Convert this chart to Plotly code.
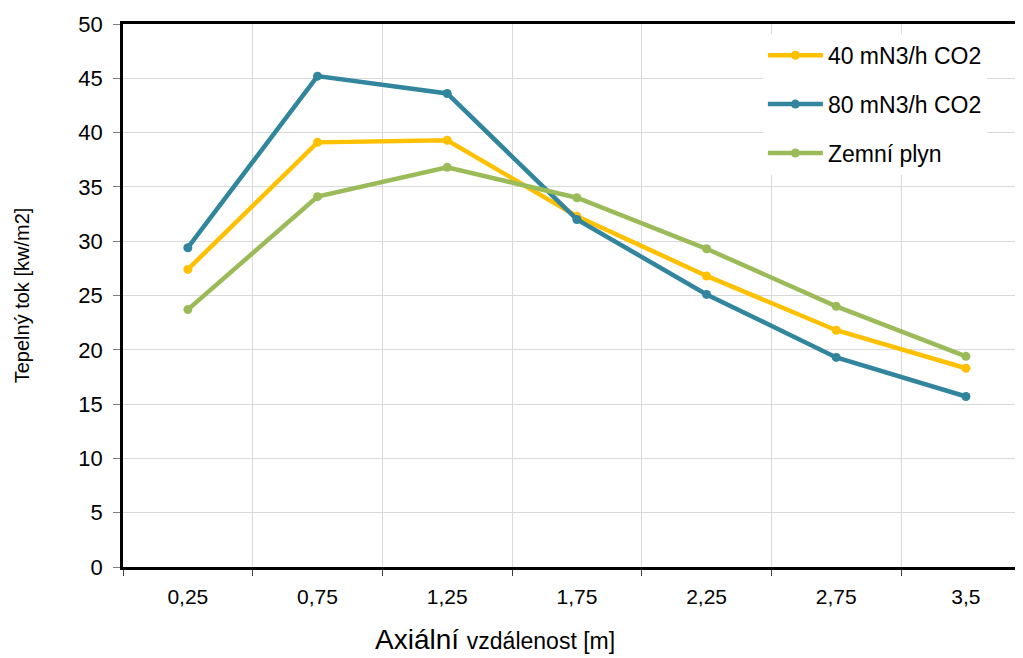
import plotly.graph_objects as go

DISTANCE = ["0,25", "0,75", "1,25", "1,75", "2,25", "2,75", "3,5"]
CO2_40 = [27.4, 39.1, 39.3, 32.3, 26.8, 21.8, 18.3]
CO2_80 = [29.4, 45.2, 43.6, 32.0, 25.1, 19.3, 15.7]
NATURAL_GAS = [23.7, 34.1, 36.8, 34.0, 29.3, 24.0, 19.4]

SERIES = [
    ("40 mN3/h CO2", CO2_40, "#FFC000"),
    ("80 mN3/h CO2", CO2_80, "#31859C"),
    ("Zemní plyn", NATURAL_GAS, "#9BBB59"),
]

FONT = "Liberation Sans, Arial, sans-serif"
NARROW = "Liberation Sans Narrow, Arial Narrow, Liberation Sans, sans-serif"
GRID = "#d9d9d9"

fig = go.Figure()
for i, (name, values, color) in enumerate(SERIES):
    fig.add_trace(
        go.Scatter(
            x=DISTANCE,
            y=values,
            mode="lines+markers",
            name=name,
            legendgroup=str(i),
            line=dict(color=color, width=4.5),
            marker=dict(color=color, size=9),
        )
    )

# the page body has an 8px margin, so the figure is sized to end at the window edge
fig.update_layout(
    width=1015,
    height=650,
    margin=dict(l=115, r=0, t=16, b=91),
    paper_bgcolor="white",
    plot_bgcolor="white",
    font=dict(family=FONT, size=20, color="#000000"),
    showlegend=True,
    legend=dict(
        x=0.711,
        y=0.982,
        xanchor="left",
        yanchor="top",
        bgcolor="white",
        font=dict(family=FONT, size=23, color="#000000"),
        itemwidth=55,
        tracegroupgap=16,
    ),
    xaxis=dict(
        type="category",
        range=[-0.5, 6.44],
        tickson="boundaries",
        ticks="outside",
        ticklen=6,
        tickcolor="#404040",
        showline=True,
        linecolor="#000000",
        linewidth=2.5,
        mirror=True,
        showgrid=True,
        gridcolor=GRID,
        gridwidth=1,
        tickfont=dict(family=NARROW, size=21, color="#000000"),
        ticklabelstandoff=9,
    ),
    yaxis=dict(
        range=[0, 50],
        dtick=5,
        ticks="outside",
        ticklen=7,
        tickcolor="#808080",
        showline=True,
        linecolor="#000000",
        linewidth=2.5,
        showgrid=True,
        gridcolor=GRID,
        gridwidth=1,
        zeroline=False,
        tickfont=dict(family=FONT, size=22, color="#000000"),
        ticklabelstandoff=6,
        title=dict(
            text="Tepelný tok [kw/m2]",
            font=dict(family=FONT, size=20, color="#000000"),
            standoff=44,
        ),
    ),
)

fig.add_annotation(
    text="Axiální <span style='font-size:23px'>vzdálenost [m]</span>",
    xref="paper",
    yref="paper",
    x=0.413,
    y=-0.134,
    xanchor="center",
    yanchor="middle",
    showarrow=False,
    font=dict(family=NARROW, size=28, color="#000000"),
)

fig.write_html("out.html")
